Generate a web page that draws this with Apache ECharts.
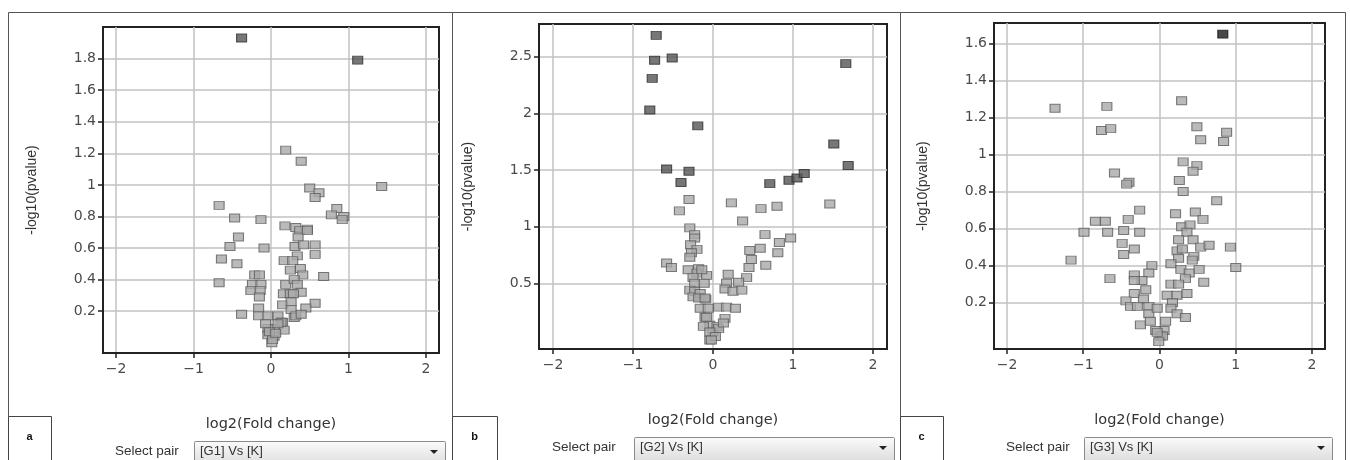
<!DOCTYPE html>
<html>
<head>
<meta charset="utf-8">
<title>volcano plots</title>
<script src="https://cdn.jsdelivr.net/npm/echarts@6/dist/echarts.min.js"></script>
<style>
  html, body { margin: 0; padding: 0; background: #fff; }
  #main { width: 1350px; height: 460px; }
</style>
</head>
<body>
<div id="main"></div>
<script>
// ---- data: [log2(fold change), -log10(pvalue)] ----
var xTicks = [-2, -1, 0, 1, 2];
var yTicksA = [0.2, 0.4, 0.6, 0.8, 1, 1.2, 1.4, 1.6, 1.8];
var yTicksB = [0.5, 1, 1.5, 2, 2.5];
var yTicksC = [0.2, 0.4, 0.6, 0.8, 1, 1.2, 1.4, 1.6];
var pairNames = ['[G1] Vs [K]', '[G2] Vs [K]', '[G3] Vs [K]'];
var panelLetters = ['a', 'b', 'c'];

// G1 vs K
var g1Sig = [[-0.38, 1.93], [1.12, 1.79]];
var g1Other = [
  [0.19, 1.22], [0.39, 1.15], [1.43, 0.99], [0.50, 0.98], [0.62, 0.95], [0.57, 0.92],
  [-0.67, 0.87], [-0.47, 0.79], [-0.13, 0.78], [0.85, 0.85], [0.78, 0.81], [0.94, 0.80], [0.92, 0.78],
  [0.18, 0.74], [0.32, 0.73], [0.37, 0.71], [0.47, 0.72], [0.35, 0.67], [-0.42, 0.67], [0.47, 0.71],
  [-0.53, 0.61], [-0.09, 0.60], [0.31, 0.61], [0.42, 0.62], [0.57, 0.62], [0.57, 0.56], [0.34, 0.55],
  [-0.64, 0.53], [-0.44, 0.50], [0.17, 0.52], [0.28, 0.52], [0.25, 0.46], [0.38, 0.47], [0.41, 0.43],
  [0.68, 0.42], [-0.21, 0.43], [-0.15, 0.43], [-0.67, 0.38], [-0.24, 0.37], [-0.13, 0.37], [0.19, 0.37],
  [0.30, 0.40], [0.34, 0.37], [-0.26, 0.33], [-0.14, 0.33], [-0.15, 0.29], [0.39, 0.32], [0.16, 0.31],
  [0.25, 0.31], [0.29, 0.31], [0.15, 0.24], [0.26, 0.26], [0.57, 0.25], [0.45, 0.22], [-0.16, 0.22],
  [-0.16, 0.17], [-0.38, 0.18], [0.26, 0.21], [-0.04, 0.17], [0.09, 0.17], [0.15, 0.13], [0.30, 0.16],
  [0.17, 0.08], [-0.04, 0.09], [0.04, 0.09], [-0.04, 0.05], [0.04, 0.04], [0.01, 0.00], [0.32, 0.17],
  [0.39, 0.18], [0.13, 0.13], [0.09, 0.12], [-0.07, 0.12], [0.02, 0.02], [-0.02, 0.07], [0.06, 0.06]
];

// G2 vs K
var g2Sig = [
  [-0.71, 2.69], [-0.73, 2.47], [-0.51, 2.49], [-0.76, 2.31], [-0.79, 2.03], [-0.19, 1.89],
  [-0.58, 1.51], [-0.30, 1.49], [-0.40, 1.39], [1.66, 2.44], [1.51, 1.73], [1.69, 1.54],
  [0.71, 1.38], [0.95, 1.41], [1.05, 1.43], [1.14, 1.47]
];
var g2Other = [
  [-0.30, 1.24], [-0.42, 1.14], [0.23, 1.21], [0.37, 1.05], [0.60, 1.16], [0.80, 1.18], [1.46, 1.20],
  [-0.29, 0.99], [-0.23, 0.93], [-0.23, 0.90], [-0.28, 0.84], [-0.20, 0.80], [-0.27, 0.77], [-0.29, 0.73],
  [-0.58, 0.68], [-0.52, 0.64], [-0.31, 0.62], [-0.18, 0.63], [-0.20, 0.59], [-0.08, 0.57], [-0.14, 0.62],
  [-0.25, 0.55], [-0.23, 0.50], [-0.11, 0.50], [-0.29, 0.44], [-0.23, 0.43], [-0.25, 0.38], [-0.16, 0.41],
  [-0.18, 0.37], [-0.09, 0.36], [-0.16, 0.28], [-0.06, 0.28], [-0.10, 0.37], [-0.10, 0.20], [-0.04, 0.13],
  [0.00, 0.07], [-0.04, 0.00], [0.05, 0.12], [-0.08, 0.20], [-0.12, 0.12], [0.07, 0.10], [-0.04, 0.07],
  [0.03, 0.03], [-0.02, 0.00], [0.07, 0.29], [0.17, 0.29], [0.28, 0.28], [0.15, 0.19], [0.13, 0.15],
  [0.19, 0.58], [0.42, 0.55], [0.17, 0.50], [0.32, 0.51], [0.15, 0.45], [0.25, 0.43], [0.36, 0.44],
  [0.65, 0.93], [0.97, 0.90], [0.83, 0.86], [0.46, 0.79], [0.59, 0.81], [0.81, 0.77], [0.48, 0.71],
  [0.45, 0.64], [0.66, 0.66]
];

// G3 vs K
var g3Sig = [[0.83, 1.65]];
var g3Other = [
  [-1.37, 1.25], [-0.69, 1.26], [-0.76, 1.13], [-0.64, 1.14], [0.29, 1.29], [0.49, 1.15], [0.88, 1.12],
  [0.54, 1.08], [0.84, 1.07], [0.31, 0.96], [0.49, 0.94], [0.44, 0.91], [-0.59, 0.90], [-0.40, 0.85],
  [-0.43, 0.84], [0.26, 0.86], [0.31, 0.80], [0.75, 0.75], [-0.26, 0.70], [0.21, 0.68], [0.47, 0.69],
  [0.57, 0.65], [-0.84, 0.64], [-0.71, 0.64], [-0.41, 0.65], [0.29, 0.61], [0.40, 0.62], [-0.99, 0.58],
  [-0.68, 0.58], [-0.47, 0.59], [-0.26, 0.58], [0.36, 0.58], [-0.49, 0.52], [-0.33, 0.49], [-0.47, 0.46],
  [0.25, 0.54], [0.44, 0.54], [0.54, 0.50], [0.65, 0.51], [0.93, 0.50], [0.23, 0.48], [0.30, 0.49],
  [0.25, 0.44], [0.45, 0.45], [0.43, 0.43], [-1.16, 0.43], [-0.10, 0.40], [-0.14, 0.36], [0.15, 0.41],
  [0.28, 0.38], [0.39, 0.36], [0.52, 0.38], [1.00, 0.39], [-0.65, 0.33], [-0.33, 0.35], [-0.23, 0.32],
  [-0.33, 0.32], [0.34, 0.33], [0.58, 0.31], [0.15, 0.30], [0.25, 0.30], [-0.18, 0.27], [-0.33, 0.25],
  [-0.21, 0.22], [0.10, 0.24], [0.23, 0.24], [0.36, 0.25], [-0.44, 0.21], [-0.38, 0.18], [-0.29, 0.18],
  [-0.14, 0.18], [-0.14, 0.14], [-0.03, 0.17], [0.17, 0.20], [0.15, 0.17], [0.23, 0.14], [0.34, 0.12],
  [-0.25, 0.08], [-0.12, 0.10], [0.08, 0.10], [0.06, 0.05], [-0.05, 0.05], [0.01, 0.02], [0.04, 0.02],
  [-0.01, -0.01], [-0.03, 0.04]
];

// ---- layout of the three panels (pixels) ----
var grids = [
  { left: 103, top: 27, width: 336, height: 326 },
  { left: 539, top: 24, width: 348, height: 325 },
  { left: 994, top: 23, width: 331, height: 326 }
];
var xRanges = [[-2.17, 2.17], [-2.175, 2.175], [-2.17, 2.17]];
var yRanges = [[-0.065, 2.0], [-0.08, 2.79], [-0.05, 1.71]];
var yTicks = [yTicksA, yTicksB, yTicksC];

var gridColor = '#c2c2c2';
var frameColor = '#222';

function fmtTick(v) {
  return String(v).replace('-', '\u2212');
}

function makeXAxis(i) {
  return {
    type: 'value', gridIndex: i, min: xRanges[i][0], max: xRanges[i][1],
    name: 'log2(Fold change)', nameLocation: 'middle', nameGap: 64,
    nameTextStyle: { fontFamily: 'DejaVu Sans', fontSize: 14.5, color: '#333' },
    axisLine: { show: true, onZero: false, lineStyle: { color: frameColor, width: 2 } },
    axisTick: { show: true, length: 5, customValues: xTicks, lineStyle: { color: frameColor, width: 1.5 } },
    axisLabel: { customValues: xTicks, formatter: fmtTick, fontFamily: 'DejaVu Sans', fontSize: 14, color: '#4a4a4a', margin: 9 },
    splitLine: { show: true, lineStyle: { color: gridColor, width: 1.5 } }
  };
}

function makeYAxis(i) {
  return {
    type: 'value', gridIndex: i, min: yRanges[i][0], max: yRanges[i][1],
    name: '-log10(pvalue)', nameLocation: 'middle', nameGap: 64, nameRotate: 90,
    nameTextStyle: { fontFamily: 'Liberation Sans', fontSize: 14, color: '#333' },
    axisLine: { show: true, onZero: false, lineStyle: { color: frameColor, width: 2 } },
    axisTick: { show: true, length: 5, customValues: yTicks[i], lineStyle: { color: frameColor, width: 1.5 } },
    axisLabel: { customValues: yTicks[i], fontFamily: 'DejaVu Sans', fontSize: 14, color: '#4a4a4a', margin: 7 },
    splitLine: { show: true, lineStyle: { color: gridColor, width: 1.5 } }
  };
}

function makeSeries(i, data, fill, border) {
  return {
    type: 'scatter', xAxisIndex: i, yAxisIndex: i, data: data,
    symbol: 'rect', symbolSize: [10, 8], silent: true,
    itemStyle: { color: fill, borderColor: border, borderWidth: 1 }
  };
}

// panel frames, letter boxes, "Select pair" dropdowns
var panelBoxes = [
  { x: 8, w: 444, letterW: 43, selX: 115, selY: 451, boxX: 194, boxY: 441, boxW: 251 },
  { x: 452, w: 448, letterW: 45, selX: 552, selY: 447, boxX: 634, boxY: 437, boxW: 260 },
  { x: 900, w: 445, letterW: 43, selX: 1006, selY: 447, boxX: 1084, boxY: 437, boxW: 248 }
];

var graphics = [];
panelBoxes.forEach(function (p, i) {
  graphics.push({
    type: 'rect', shape: { x: p.x + 0.5, y: 12.5, width: p.w, height: 470 },
    style: { fill: null, stroke: '#555', lineWidth: 1 }, silent: true
  });
  graphics.push({
    type: 'rect', shape: { x: p.x + 0.5, y: 416.5, width: p.letterW, height: 60 },
    style: { fill: '#fff', stroke: '#444', lineWidth: 1 }, silent: true
  });
  graphics.push({
    type: 'text', x: p.x + p.letterW / 2, y: 437,
    style: { text: panelLetters[i], font: 'bold 11px "Liberation Sans"', fill: '#111', textAlign: 'center', textVerticalAlign: 'middle' }
  });
  graphics.push({
    type: 'text', x: p.selX, y: p.selY,
    style: { text: 'Select pair', font: '13.5px "Liberation Sans"', fill: '#333', textAlign: 'left', textVerticalAlign: 'middle' }
  });
  graphics.push({
    type: 'rect', shape: { x: p.boxX + 0.5, y: p.boxY + 0.5, width: p.boxW, height: 24, r: 1 },
    style: {
      fill: { type: 'linear', x: 0, y: 0, x2: 0, y2: 1, colorStops: [{ offset: 0, color: '#fbfbfb' }, { offset: 1, color: '#dcdcdc' }] },
      stroke: '#8a8a8a', lineWidth: 1
    }, silent: true
  });
  graphics.push({
    type: 'text', x: p.boxX + 6, y: p.selY,
    style: { text: pairNames[i], font: '13px "Liberation Sans"', fill: '#333', textAlign: 'left', textVerticalAlign: 'middle' }
  });
  var ax = p.boxX + p.boxW - 11;
  graphics.push({
    type: 'polygon', shape: { points: [[ax - 4, p.selY - 1], [ax + 4, p.selY - 1], [ax, p.selY + 3]] },
    style: { fill: '#222' }, silent: true
  });
});

var option = {
  backgroundColor: '#fff',
  animation: false,
  grid: grids.map(function (g) {
    return { left: g.left, top: g.top, width: g.width, height: g.height, show: true, borderColor: frameColor, borderWidth: 2, backgroundColor: '#fff' };
  }),
  xAxis: [0, 1, 2].map(makeXAxis),
  yAxis: [0, 1, 2].map(makeYAxis),
  series: [
    makeSeries(0, g1Other, '#a9a9a9', '#5c5c5c'),
    makeSeries(0, g1Sig, '#555', '#2e2e2e'),
    makeSeries(1, g2Other, '#a9a9a9', '#5c5c5c'),
    makeSeries(1, g2Sig, '#555', '#2e2e2e'),
    makeSeries(2, g3Other, '#a9a9a9', '#5c5c5c'),
    makeSeries(2, g3Sig, '#1c1c1c', '#111')
  ],
  graphic: graphics
};

var chart = echarts.init(document.getElementById('main'), null, { renderer: 'canvas' });
chart.setOption(option);
</script>
</body>
</html>
